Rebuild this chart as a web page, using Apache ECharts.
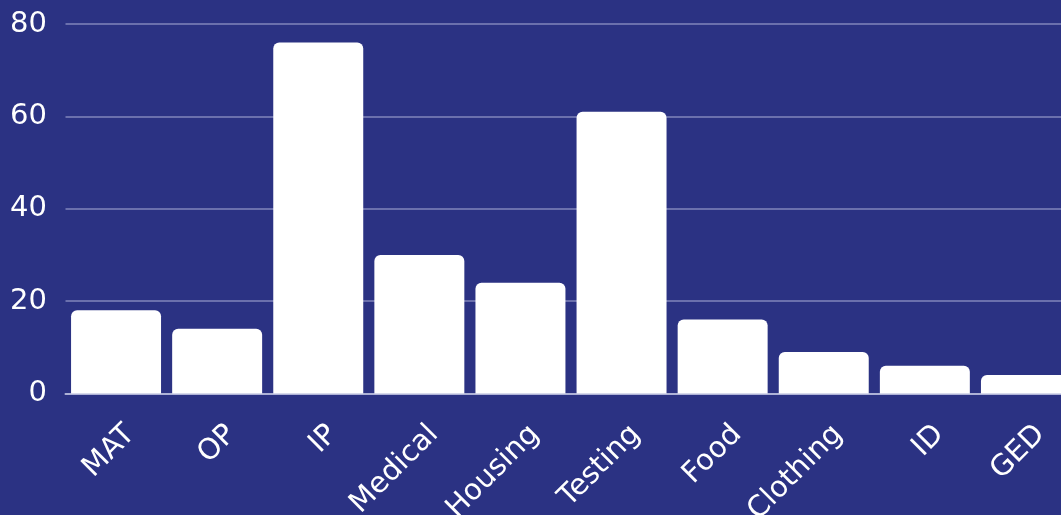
<!DOCTYPE html>
<html>
<head>
<meta charset="utf-8">
<title>Services</title>
<script src="https://cdn.jsdelivr.net/npm/echarts@6/dist/echarts.min.js"></script>
<style>
  html, body { margin: 0; padding: 0; background: #2b3283; }
  #chart { width: 1061px; height: 515px; }
</style>
</head>
<body>
<div id="chart"></div>
<script>
// Service categories and their counts
const categories = ['MAT', 'OP', 'IP', 'Medical', 'Housing', 'Testing', 'Food', 'Clothing', 'ID', 'GED'];
const counts = [18, 14, 76, 30, 24, 61, 16, 9, 6, 4];
const yTicks = [0, 20, 40, 60, 80];

const FONT = '"DejaVu Sans", "Noto Sans", sans-serif';

const chart = echarts.init(document.getElementById('chart'), null, { renderer: 'canvas' });
chart.setOption({
  backgroundColor: '#2b3283',
  animation: false,
  grid: {
    left: 65.5, top: 24, width: 1011, height: 369.5,
    containLabel: false, outerBoundsMode: 'none'
  },
  xAxis: {
    type: 'category',
    data: categories,
    axisLine: { show: true, lineStyle: { color: '#aeb2d6', width: 2 } },
    axisTick: { show: false },
    axisLabel: {
      rotate: 45,
      interval: 0,
      margin: 22,
      verticalAlign: 'top',
      padding: [6, 0, 0, 0],
      color: '#ffffff',
      fontFamily: FONT,
      fontSize: 29
    }
  },
  yAxis: {
    type: 'value',
    min: yTicks[0],
    max: yTicks[yTicks.length - 1],
    interval: 20,
    axisLine: { show: false },
    axisTick: { show: false },
    splitLine: { lineStyle: { color: '#6b70ad', width: 2 } },
    axisLabel: {
      margin: 18.5,
      color: '#ffffff',
      fontFamily: FONT,
      fontSize: 29
    }
  },
  series: [{
    type: 'bar',
    data: counts,
    barCategoryGap: '11%',
    itemStyle: { color: '#ffffff', borderRadius: [6, 6, 0, 0] }
  }]
});
</script>
</body>
</html>
